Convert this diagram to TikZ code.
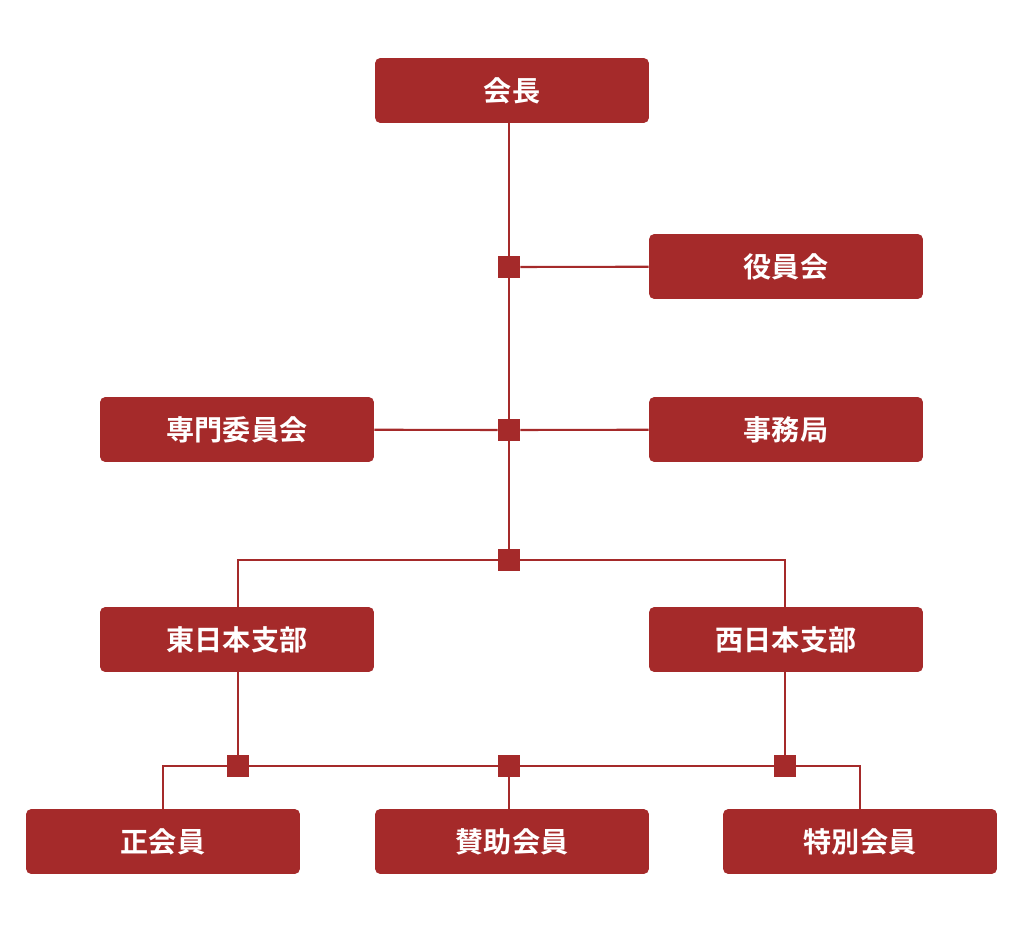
\documentclass[tikz,border=0pt]{standalone}
\usepackage{fontspec}
\newfontfamily\cjk{Noto Sans CJK JP Bold}
\usepackage{tikz}
\usetikzlibrary{positioning}
\definecolor{boxRed}{HTML}{A52A2A}
\tikzset{
    box/.style={fill=boxRed, rounded corners=3pt, minimum width=5.48cm, minimum height=1.3cm, text=white, font=\cjk\fontsize{16}{18}\selectfont}, % sets the properties for each box
    link/.style={draw=boxRed, line width=1.2pt}, % the connecting lines
    joint/.style={fill=boxRed, minimum size=0.44cm, inner sep=0pt}, % the small squares
}
\begin{document}
\begin{tikzpicture}[x=0.02cm, y=-0.02cm]
    \useasboundingbox (0,0) rectangle (1024,935);
    \node[box] (kaicho) at (512,90.5) {会長};
    \node[box] (yakuin) at (786,266.5) {役員会};
    \node[box] (senmon) at (237,429.5) {専門委員会};
    \node[box] (jimu) at (786,429.5) {事務局};
    \node[box] (higashi) at (237,639.5) {東日本支部};
    \node[box] (nishi) at (786,639.5) {西日本支部};
    \node[box] (sei) at (163,841.5) {正会員};
    \node[box] (sanjo) at (512,841.5) {賛助会員};
    \node[box] (tokubetsu) at (860,841.5) {特別会員};

    \node[joint] (j1) at (509,267) {};
    \node[joint] (j2) at (509,430) {};
    \node[joint] (j3) at (509,560) {};
    \node[joint] (j4) at (238,766) {};
    \node[joint] (j5) at (509,766) {};
    \node[joint] (j6) at (785,766) {};

    \draw[link] (kaicho.south -| j1) -- (j1) -- (j2) -- (j3);
    \draw[link] (j1) -- (yakuin);
    \draw[link] (senmon) -- (j2) -- (jimu);
    \draw[link] (j3) -| (higashi.north -| j4);
    \draw[link] (j3) -| (nishi.north -| j6);
    \draw[link] (higashi.south -| j4) -- (j4);
    \draw[link] (nishi.south -| j6) -- (j6);
    \draw[link] (j4) -| (sei.north);
    \draw[link] (j6) -| (tokubetsu.north);
    \draw[link] (j4) -- (j5) -- (j6);
    \draw[link] (j5) -- (sanjo.north -| j5);
    % redraw the joints over the lines
    \foreach \j in {j1,j2,j3,j4,j5,j6} \fill[boxRed] (\j.south west) rectangle (\j.north east);
\end{tikzpicture}
\end{document}
